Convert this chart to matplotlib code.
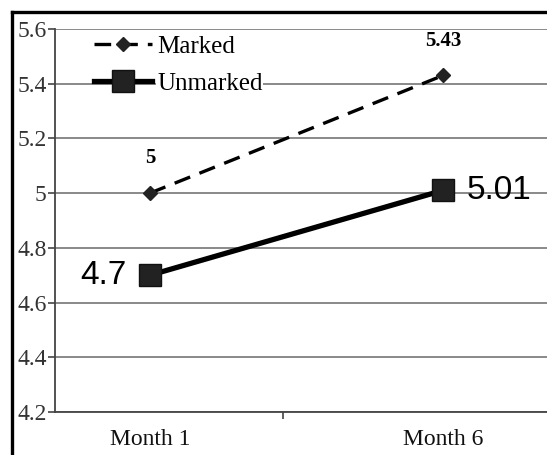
import matplotlib.pyplot as plt
from matplotlib.lines import Line2D

months = ['Month 1', 'Month 6']
marked = [5.0, 5.43]
unmarked = [4.7, 5.01]
yticks = [4.2, 4.4, 4.6, 4.8, 5.0, 5.2, 5.4, 5.6]
ytick_labels = ['4.2', '4.4', '4.6', '4.8', '5', '5.2', '5.4', '5.6']

serif = 'Liberation Serif'
sans = 'Liberation Sans'

fig = plt.figure(figsize=(5.47, 4.55), dpi=100)
ax = fig.add_axes([0.1005, 0.0945, 0.8995, 0.8418])

x = list(range(len(months)))
ax.plot(x, marked, color='black', lw=2.4, ls=(0, (5, 3)), marker='D',
        ms=7, mfc='#222222', mec='#222222', label='Marked', zorder=3)
ax.plot(x, unmarked, color='black', lw=3.8, marker='s', ms=16,
        mfc='#222222', mec='#111111', label='Unmarked', zorder=3)

# value labels
for xi, v in zip(x, marked):
    ax.annotate(f'{v:g}', (xi, v), xytext=(0, 25), textcoords='offset points',
                ha='center', va='center', fontsize=15, fontweight='bold',
                family=serif)
ax.annotate(f'{unmarked[0]:g}', (x[0], unmarked[0]), xytext=(-17, 0),
            textcoords='offset points', ha='right', va='center',
            fontsize=24, family=sans)
ax.annotate(f'{unmarked[1]:g}', (x[1], unmarked[1]), xytext=(17, 0),
            textcoords='offset points', ha='left', va='center',
            fontsize=24, family=sans)

ax.set_xlim(-0.324, 1.355)
ax.set_ylim(4.2, 5.6)
ax.set_yticks(yticks)
ax.set_yticklabels(ytick_labels, family=serif, fontsize=17)
ax.set_xticks(x)
ax.set_xticklabels(months, family=serif, fontsize=17)
ax.set_xticks([0.455], minor=True)
ax.tick_params(axis='x', which='major', length=0, pad=12)
ax.tick_params(axis='x', which='minor', length=5, width=1.2, color='#444444')
ax.tick_params(axis='y', length=5, width=1.2, color='#444444', pad=1,
               colors='#333333')
ax.tick_params(axis='x', colors='#111111')

ax.grid(axis='y', color='#808080', lw=1.3)
ax.set_axisbelow(True)
for side in ['top', 'right']:
    ax.spines[side].set_visible(False)
for side in ['left', 'bottom']:
    ax.spines[side].set_color('#444444')
    ax.spines[side].set_linewidth(1.3)

leg = ax.legend(loc='upper left', bbox_to_anchor=(0.06, 1.01), frameon=False,
                prop={'family': serif, 'size': 18}, handlelength=2.3,
                handletextpad=0.2, labelspacing=0.6, borderaxespad=0)
for t in leg.get_texts():
    t.set_bbox(dict(facecolor='white', edgecolor='none', pad=0.5))

# black frame around the figure
fx = 12 / 547
fy = 1 - 12 / 455
fig.add_artist(Line2D([fx, fx], [0, fy], color='black', lw=2.4,
                      transform=fig.transFigure))
fig.add_artist(Line2D([fx, 1], [fy, fy], color='black', lw=2.4,
                      transform=fig.transFigure))

fig.savefig('out.png', dpi=100)
